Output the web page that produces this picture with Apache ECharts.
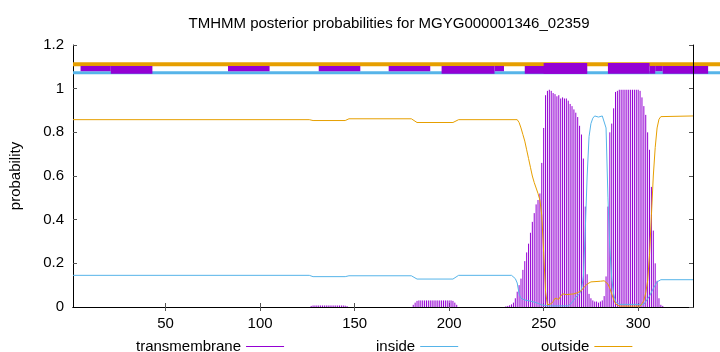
<!DOCTYPE html>
<html><head><meta charset="utf-8">
<script src="https://cdn.jsdelivr.net/npm/echarts@6/dist/echarts.min.js"></script>
<style>html,body{margin:0;padding:0;background:#fff}#c{width:720px;height:352px}</style>
</head><body><div id="c"></div>
<script>
const titleText = 'TMHMM posterior probabilities for MGYG000001346_02359';
const seriesNames = ['transmembrane', 'inside', 'outside'];
const xTicks = [50, 100, 150, 200, 250, 300];
const seqStart = 1;
const seqEnd = 329;

// transmembrane posterior (impulses), [residue, probability]
const transmembrane = [
  [127,0.005],[128,0.007],[129,0.007],[130,0.007],[131,0.007],[132,0.007],[133,0.007],[134,0.007],[135,0.007],[136,0.007],
  [137,0.007],[138,0.007],[139,0.007],[140,0.007],[141,0.007],[142,0.007],[143,0.007],[144,0.007],[145,0.006],[146,0.004],
  [181,0.01],[182,0.02],[183,0.028],[184,0.03],[185,0.03],[186,0.03],[187,0.03],[188,0.03],[189,0.03],[190,0.03],
  [191,0.03],[192,0.03],[193,0.03],[194,0.03],[195,0.03],[196,0.03],[197,0.03],[198,0.03],[199,0.03],[200,0.03],
  [201,0.03],[202,0.028],[203,0.02],[204,0.01],
  [230,0.003],[231,0.005],[232,0.008],[233,0.012],[234,0.02],[235,0.04],[236,0.07],[237,0.1],[238,0.13],[239,0.17],
  [240,0.21],[241,0.25],[242,0.29],[243,0.34],[244,0.39],[245,0.43],[246,0.47],[247,0.49],[248,0.52],[249,0.66],
  [250,0.82],[251,0.97],[252,0.99],[253,0.995],[254,0.99],[255,0.98],[256,0.975],[257,0.965],[258,0.97],[259,0.955],
  [260,0.96],[261,0.955],[262,0.955],[263,0.945],[264,0.93],[265,0.92],[266,0.905],[267,0.89],[268,0.87],[269,0.83],
  [270,0.79],[271,0.68],[272,0.46],[273,0.15],[274,0.06],[275,0.04],[276,0.03],[277,0.025],[278,0.025],[279,0.02],
  [280,0.025],[281,0.03],[282,0.05],[283,0.14],[284,0.46],[285,0.8],[286,0.84],[287,0.91],[288,0.985],[289,0.99],
  [290,0.995],[291,0.995],[292,0.995],[293,0.995],[294,0.995],[295,0.995],[296,0.995],[297,0.995],[298,0.995],[299,0.995],
  [300,0.995],[301,0.99],[302,0.96],[303,0.92],[304,0.88],[305,0.8],[306,0.72],[307,0.55],[308,0.35],[309,0.2],
  [310,0.12],[311,0.04],[312,0.01],[313,0.005]
];

// inside posterior, [residue, probability]
const inside = [
  [1,0.145],[126,0.145],[128,0.139],[145,0.139],[147,0.143],[180,0.143],[183,0.128],[202,0.128],[205,0.145],[233,0.145],
  [234,0.14],[235,0.13],[236,0.11],[237,0.06],[238,0.04],[240,0.032],[243,0.027],[246,0.02],[249,0.01],[252,0.005],
  [263,0.005],[265,0.02],[267,0.045],[269,0.06],[270,0.08],[271,0.14],[272,0.35],[273,0.6],[274,0.78],[275,0.84],
  [276,0.865],[277,0.875],[279,0.87],[281,0.875],[282,0.87],[283,0.82],[284,0.5],[285,0.27],[286,0.13],[287,0.06],
  [288,0.025],[290,0.012],[303,0.012],[304,0.025],[306,0.05],[308,0.085],[310,0.115],[312,0.125],[329,0.125]
];

// outside posterior, [residue, probability]
const outside = [
  [1,0.858],[126,0.858],[128,0.854],[145,0.854],[147,0.862],[180,0.862],[183,0.845],[202,0.845],[205,0.858],[236,0.858],
  [237,0.845],[238,0.82],[239,0.79],[240,0.76],[241,0.72],[242,0.68],[243,0.64],[244,0.6],[245,0.57],[246,0.545],
  [247,0.52],[248,0.49],[249,0.42],[250,0.25],[251,0.07],[252,0.01],[253,0.005],[254,0.015],[255,0.025],[256,0.04],
  [257,0.04],[258,0.035],[259,0.05],[260,0.06],[262,0.057],[266,0.06],[268,0.066],[270,0.075],[271,0.087],[273,0.105],
  [275,0.115],[280,0.118],[282,0.12],[283,0.115],[284,0.105],[285,0.085],[286,0.06],[287,0.035],[288,0.015],[290,0.004],
  [301,0.004],[302,0.015],[303,0.03],[304,0.065],[305,0.12],[306,0.24],[307,0.42],[308,0.6],[309,0.73],[310,0.82],
  [311,0.86],[312,0.872],[329,0.875]
];

// topology band segments [start residue, end residue]
const bandOutside = [[1,345]];
const bandInside = [[1,345]];
const bandTmThin = [[5,21],[83,105],[131,153],[168,190],[224,229],[309,313]];
const bandTmMid = [[21,43],[196,224],[240,273],[306,309],[313,337]];
const bandTmTall = [[250,273],[284,306]];

const COLORS = { tm: '#9400d3', inside: '#56b4e9', outside: '#e69f00' };
const FONT = 'Liberation Sans, Arial, sans-serif';

function bandSeries(data, lo, hi, color) {
  return {
    type: 'custom', data: data, clip: false, silent: true, z: 3,
    encode: { x: [0, 1] },
    renderItem: function (params, api) {
      const a = api.coord([api.value(0), hi]);
      const b = api.coord([api.value(1), lo]);
      return { type: 'rect', shape: { x: a[0], y: a[1], width: b[0] - a[0], height: b[1] - a[1] }, style: { fill: color } };
    }
  };
}

const chart = echarts.init(document.getElementById('c'), null, { renderer: 'canvas' });
const legendBase = {
  orient: 'horizontal', align: 'right', top: 334, itemWidth: 38, itemHeight: 1,
  textStyle: { color: '#000', fontSize: 15, fontFamily: FONT }, selectedMode: false
};
chart.setOption({
  animation: false,
  backgroundColor: '#fff',
  title: {
    text: titleText, left: 384, top: 11, textAlign: 'center',
    textStyle: { color: '#000', fontSize: 15, fontWeight: 'normal', fontFamily: FONT }
  },
  grid: { left: 73, right: 27, top: 45, bottom: 45, containLabel: false },
  legend: [
    Object.assign({}, legendBase, { left: 131, data: [{ name: seriesNames[0], icon: 'rect', itemStyle: { color: COLORS.tm } }] }),
    Object.assign({}, legendBase, { left: 371, data: [{ name: seriesNames[1], icon: 'rect', itemStyle: { color: COLORS.inside } }] }),
    Object.assign({}, legendBase, { left: 536, data: [{ name: seriesNames[2], icon: 'rect', itemStyle: { color: COLORS.outside } }] })
  ],
  xAxis: [
    {
      type: 'value', min: seqStart, max: seqEnd, position: 'bottom',
      axisLine: { show: true, lineStyle: { color: '#000', width: 1 } },
      axisTick: { show: true, inside: true, length: 4, customValues: xTicks, lineStyle: { color: '#555' } },
      axisLabel: { customValues: xTicks, margin: 9, color: '#000', fontSize: 15, fontFamily: FONT },
      splitLine: { show: false }
    },
    {
      type: 'value', min: seqStart, max: seqEnd, position: 'top', z: 6,
      axisLine: { show: true, lineStyle: { color: '#000', width: 1 } },
      axisTick: { show: true, inside: true, length: 4, customValues: xTicks, lineStyle: { color: '#555' } },
      axisLabel: { show: false }, splitLine: { show: false }
    }
  ],
  yAxis: [
    {
      type: 'value', min: 0, max: 1.2, interval: 0.2, position: 'left',
      name: 'probability', nameLocation: 'middle', nameGap: 50,
      nameTextStyle: { color: '#000', fontSize: 15, fontFamily: FONT },
      axisLine: { show: true, lineStyle: { color: '#000', width: 1 } },
      axisTick: { show: true, inside: true, length: 4, lineStyle: { color: '#555' } },
      axisLabel: { margin: 9, color: '#000', fontSize: 15, fontFamily: FONT },
      splitLine: { show: false }
    },
    {
      type: 'value', min: 0, max: 1.2, interval: 0.2, position: 'right', z: 6,
      axisLine: { show: true, lineStyle: { color: '#000', width: 1 } },
      axisTick: { show: true, inside: true, length: 4, lineStyle: { color: '#555' } },
      axisLabel: { show: false }, splitLine: { show: false }
    }
  ],
  series: [
    {
      name: seriesNames[0], type: 'custom', data: transmembrane, z: 2,
      itemStyle: { color: COLORS.tm },
      encode: { x: 0, y: 1 },
      renderItem: function (params, api) {
        const p0 = api.coord([api.value(0), 0]);
        const p1 = api.coord([api.value(0), api.value(1)]);
        return { type: 'line', shape: { x1: p0[0], y1: p0[1], x2: p1[0], y2: p1[1] }, style: { stroke: COLORS.tm, lineWidth: 1 } };
      }
    },
    {
      name: seriesNames[1], type: 'line', data: inside, showSymbol: false, z: 3,
      itemStyle: { color: COLORS.inside }, lineStyle: { color: COLORS.inside, width: 1 }
    },
    {
      name: seriesNames[2], type: 'line', data: outside, showSymbol: false, z: 3,
      itemStyle: { color: COLORS.outside }, lineStyle: { color: COLORS.outside, width: 1 }
    },
    bandSeries(bandOutside, 1.103, 1.121, COLORS.outside),
    bandSeries(bandInside, 1.066, 1.080, COLORS.inside),
    bandSeries(bandTmThin, 1.080, 1.104, COLORS.tm),
    bandSeries(bandTmMid, 1.0687, 1.104, COLORS.tm),
    bandSeries(bandTmTall, 1.0687, 1.1177, COLORS.tm)
  ]
});
</script></body></html>
